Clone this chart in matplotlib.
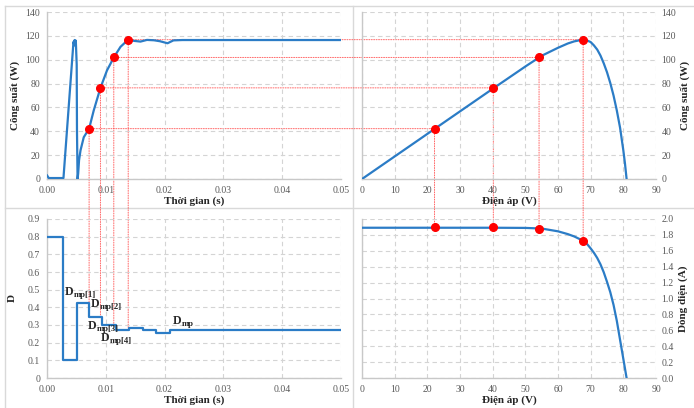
import matplotlib
matplotlib.use("Agg")
import matplotlib.pyplot as plt
from matplotlib.patches import ConnectionPatch
from matplotlib.lines import Line2D

plt.rcParams['font.family'] = ['Liberation Serif', 'DejaVu Serif']

# power vs time
t_p = [0, 0.0003, 0.0028, 0.0044, 0.0045, 0.00465, 0.0047, 0.0048, 0.0049,
       0.00505, 0.0051, 0.0052, 0.0053, 0.00545, 0.0057, 0.00625, 0.00716, 0.00795,
       0.00909, 0.0102, 0.01136, 0.0125, 0.01381, 0.0148, 0.0159, 0.017, 0.0182,
       0.0192, 0.0205, 0.0215, 0.023, 0.05]
p_t = [3, 0.8, 0.8, 108, 115, 112, 116.5, 113, 116,
       96, 40, 0, 4.5, 15.7, 24, 35, 42.2, 57.5,
       76.4, 91, 101.9, 110.8, 116.8, 115.8, 115.2, 116.6, 116.3,
       115.5, 113.8, 116.2, 116.5, 116.5]

# duty cycle vs time
t_d = [0, 0.00273, 0.0051, 0.0071, 0.0094, 0.01176, 0.01398, 0.01636, 0.01858, 0.0209, 0.05]
d_t = [0.8, 0.1, 0.424, 0.343, 0.298, 0.269, 0.284, 0.269, 0.254, 0.269, 0.269]

# PV / IV curves
v_c = [0, 10, 20, 30, 40, 50, 55, 60, 63, 65, 67, 68, 69, 70, 71, 72, 73, 74, 75,
       76, 77, 78, 79, 80, 80.5, 81]
p_c = [0, 18.9, 37.8, 56.7, 75.6, 94.3, 103.3, 110.0, 113.6, 115.4, 116.5, 116.5,
       116.0, 114.8, 112.0, 108.5, 103.5, 97.0, 89.5, 80.5, 70.0, 57.5, 43.0, 24.0, 13.0, 0]
i_c = [1.89, 1.89, 1.89, 1.89, 1.89, 1.888, 1.88, 1.845, 1.81, 1.78, 1.74, 1.72,
       1.68, 1.63, 1.575, 1.51, 1.43, 1.33, 1.21, 1.08, 0.92, 0.72, 0.48, 0.24, 0.12, 0]

# operating points
t_pts = [0.00716, 0.00909, 0.01136, 0.01381]
p_pts = [42.2, 76.4, 101.9, 116.8]
d_pts = [0.424, 0.343, 0.298, 0.284]
v_pts = [22.2, 40.2, 54.2, 67.7]
i_pts = [1.895, 1.90, 1.88, 1.725]

# D labels: (x, y, subscript)
d_lab_x = [0.0030, 0.0075, 0.0069, 0.0092, 0.0214]
d_lab_y = [0.47, 0.40, 0.277, 0.210, 0.305]
d_lab_sub = ['mp[1]', 'mp[2]', 'mp[3]', 'mp[4]', 'mp']

blue = '#2b7cc6'
red = '#ff0000'
grey = '#595959'

W, H = 694, 408
fig = plt.figure(figsize=(W / 100, H / 100), dpi=100)


def box(x0, y0, x1, y1):
    return [x0 / W, 1 - y1 / H, (x1 - x0) / W, (y1 - y0) / H]


ax1 = fig.add_axes(box(47, 12, 341, 179))
ax2 = fig.add_axes(box(362, 12, 656, 179))
ax3 = fig.add_axes(box(47, 219, 341, 378))
ax4 = fig.add_axes(box(362, 219, 656, 378))

for ax in (ax1, ax2, ax3, ax4):
    ax.set_facecolor('none')
    ax.grid(True, color='#d4d4d4', linestyle=(0, (4, 3)), linewidth=0.8)
    ax.set_axisbelow(True)
    for s in ('top', 'right'):
        ax.spines[s].set_visible(False)
    for s in ('left', 'bottom'):
        ax.spines[s].set_color('#c8c8c8')
        ax.spines[s].set_linewidth(1.0)
    ax.tick_params(length=0, labelsize=7, labelcolor=grey, pad=5)

lab = dict(fontsize=8, fontweight='bold', color='#262626')

# top-left: power vs time
ax1.plot(t_p, p_t, color=blue, lw=1.6, zorder=3)
ax1.plot(t_pts, p_pts, 'o', color=red, ms=5.5, zorder=4)
ax1.set_xlim(0, 0.05)
ax1.set_ylim(0, 140)
ax1.set_xticks([0, 0.01, 0.02, 0.03, 0.04, 0.05])
ax1.set_xticklabels(['0.00', '0.01', '0.02', '0.03', '0.04', '0.05'])
ax1.set_yticks(range(0, 141, 20))
ax1.set_xlabel('Thời gian (s)', labelpad=1, **lab)
ax1.set_ylabel('Công suất (W)', labelpad=4, **lab)

# top-right: P-V
ax2.plot(v_c, p_c, color=blue, lw=1.6, zorder=3)
ax2.plot(v_pts, p_pts, 'o', color=red, ms=5.5, zorder=4)
ax2.set_xlim(0, 90)
ax2.set_ylim(0, 140)
ax2.set_xticks(range(0, 91, 10))
ax2.set_yticks(range(0, 141, 20))
ax2.yaxis.tick_right()
ax2.yaxis.set_label_position('right')
ax2.tick_params(axis='y', pad=4)
ax2.set_xlabel('Điện áp (V)', labelpad=1, **lab)
ax2.set_ylabel('Công suất (W)', labelpad=3, rotation=90, **lab)

# bottom-left: duty cycle
ax3.step(t_d, d_t, where='post', color=blue, lw=1.6, zorder=3)
ax3.set_xlim(0, 0.05)
ax3.set_ylim(0, 0.9)
ax3.set_xticks([0, 0.01, 0.02, 0.03, 0.04, 0.05])
ax3.set_xticklabels(['0.00', '0.01', '0.02', '0.03', '0.04', '0.05'])
ax3.set_yticks([0, 0.1, 0.2, 0.3, 0.4, 0.5, 0.6, 0.7, 0.8, 0.9])
ax3.set_yticklabels(['0', '0.1', '0.2', '0.3', '0.4', '0.5', '0.6', '0.7', '0.8', '0.9'])
ax3.set_xlabel('Thời gian (s)', labelpad=1, **lab)
ax3.set_ylabel('D', labelpad=8, **lab)

for x, y, sub in zip(d_lab_x, d_lab_y, d_lab_sub):
    ax3.text(x, y, 'D', fontsize=8.5, fontweight='bold', color='#262626',
             va='baseline', ha='left', zorder=5)
    ax3.annotate(sub, (x, y), xytext=(6.3, -1.2), textcoords='offset points',
                 fontsize=6.3, fontweight='bold', color='#262626',
                 va='baseline', ha='left', zorder=5)

# bottom-right: I-V
ax4.plot(v_c, i_c, color=blue, lw=1.6, zorder=3)
ax4.plot(v_pts, i_pts, 'o', color=red, ms=5.5, zorder=4)
ax4.set_xlim(0, 90)
ax4.set_ylim(0, 2.0)
ax4.set_xticks(range(0, 91, 10))
ax4.set_yticks([0, 0.2, 0.4, 0.6, 0.8, 1.0, 1.2, 1.4, 1.6, 1.8, 2.0])
ax4.set_yticklabels(['0.0', '0.2', '0.4', '0.6', '0.8', '1.0', '1.2', '1.4', '1.6', '1.8', '2.0'])
ax4.yaxis.tick_right()
ax4.yaxis.set_label_position('right')
ax4.tick_params(axis='y', pad=4)
ax4.set_xlabel('Điện áp (V)', labelpad=1, **lab)
ax4.set_ylabel('Dòng điện (A)', labelpad=3, rotation=90, **lab)

# red dotted guide lines
guide = dict(color='#ff4040', linestyle=(0, (1, 1.5)), linewidth=0.7, alpha=0.8, zorder=-1)
for k in range(len(t_pts)):
    for a, b, xa, xb in ((ax1, ax2, (t_pts[k], p_pts[k]), (v_pts[k], p_pts[k])),
                         (ax1, ax3, (t_pts[k], p_pts[k]), (t_pts[k], d_pts[k])),
                         (ax2, ax4, (v_pts[k], p_pts[k]), (v_pts[k], i_pts[k]))):
        con = ConnectionPatch(xyA=xa, xyB=xb, coordsA='data', coordsB='data',
                              axesA=a, axesB=b, **guide)
        fig.add_artist(con)

# light panel borders
fc = '#d9d9d9'
for xs, ys in (((5, W), (6, 6)), ((5, 5), (6, H)), ((353, 353), (6, H)), ((5, W), (208, 208))):
    fig.add_artist(Line2D([x / W for x in xs], [1 - y / H for y in ys], color=fc, lw=1.0,
                          transform=fig.transFigure, zorder=-2))

fig.savefig('out.png', dpi=100)
